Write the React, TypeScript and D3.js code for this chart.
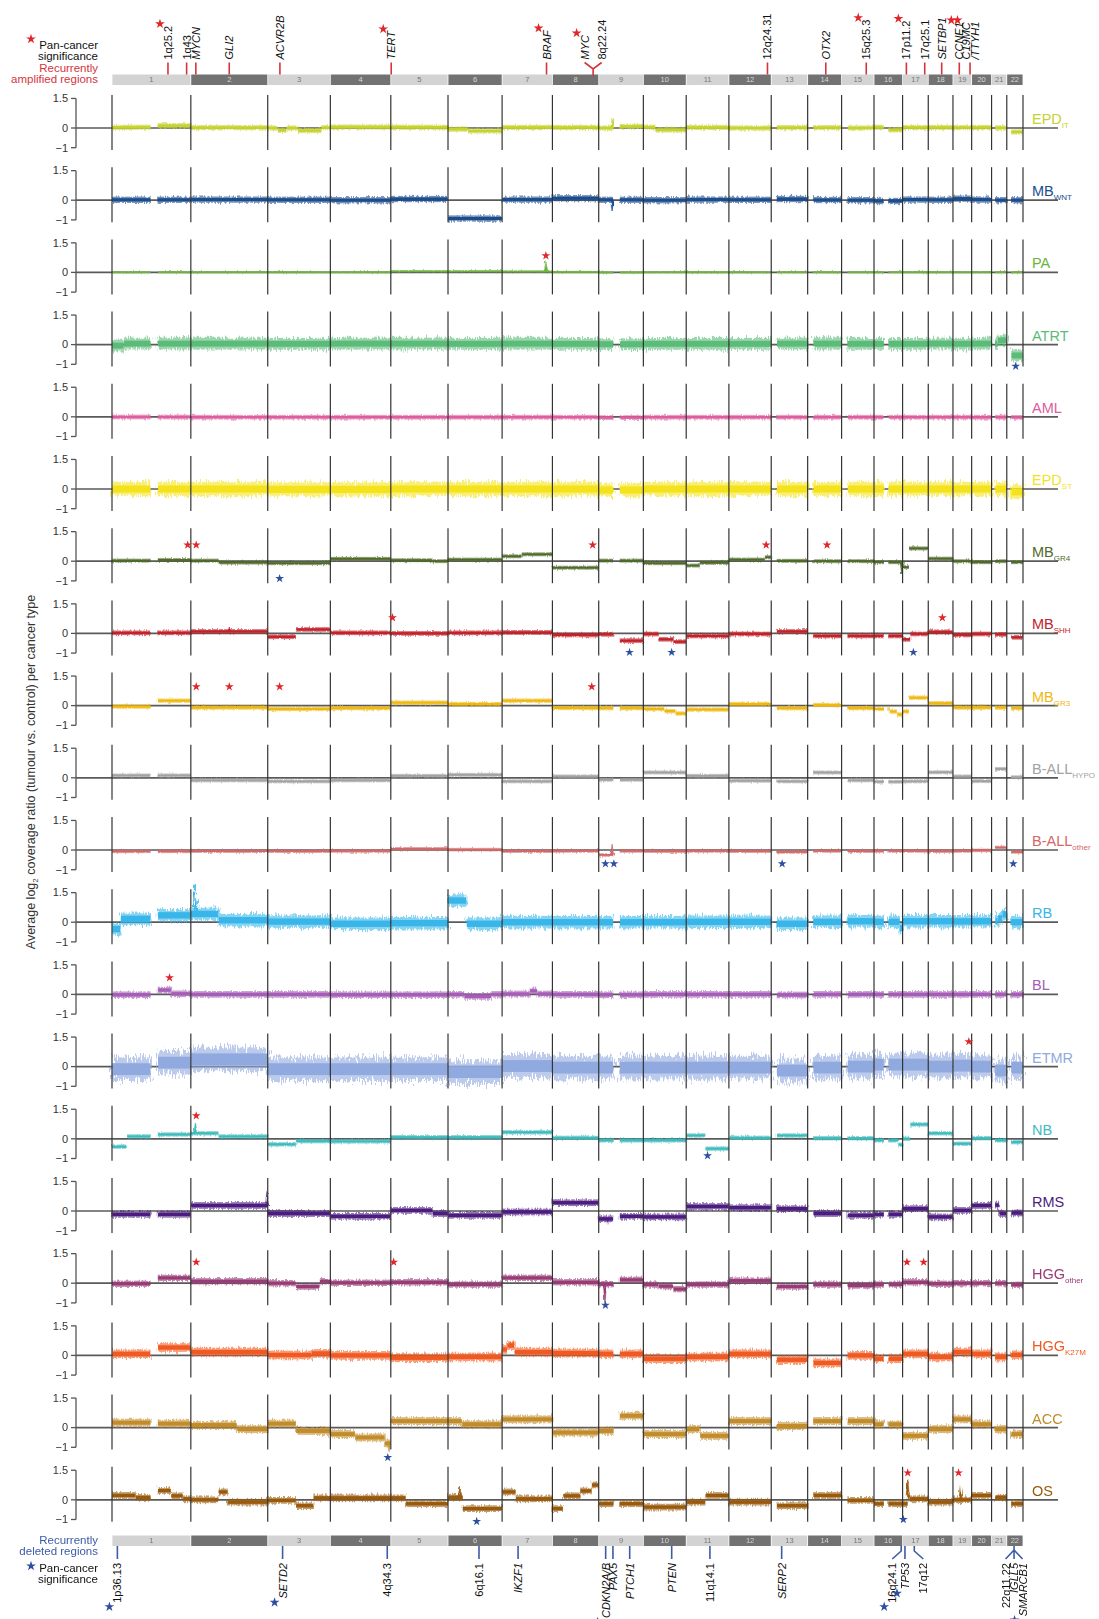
import React from 'react';
import * as d3 from 'd3';

// ---------- DATA ----------
const CHROMS = ['1','2','3','4','5','6','7','8','9','10','11','12','13','14','15','16','17','18','19','20','21','22'];
const CHROM_LENGTHS = [249.3,243.2,198.0,191.2,180.9,171.1,159.1,146.4,141.2,135.5,135.0,133.9,115.2,107.3,102.5,90.4,81.2,78.1,59.1,63.0,48.1,51.3];
// unmappable regions (chromosome, fraction start, fraction end)
const GAPS = [[1,0.49,0.58],[9,0.33,0.47],[13,0,0.15],[14,0,0.16],[15,0,0.18],[16,0.35,0.5],[21,0,0.22],[22,0,0.26]];

const CANCER_NAMES = [['EPD','IT'],['MB','WNT'],['PA',''],['ATRT',''],['AML',''],['EPD','ST'],['MB','GR4'],['MB','SHH'],['MB','GR3'],['B-ALL','HYPO'],['B-ALL','other'],['RB',''],['BL',''],['ETMR',''],['NB',''],['RMS',''],['HGG','other'],['HGG','K27M'],['ACC',''],['OS','']];
const CANCER_COLORS = ['#c6d32e','#1b4d8d','#6db23c','#5bbb78','#de5d9c','#f4e31c','#4f6b2a','#c3222a','#efb80f','#a2a2a2','#d26868','#38b6ea','#a55db6','#90a9de','#3dbbbd','#4d1c80','#983c77','#f05a22','#c28c2b','#9a5a0c'];
// spread of the per-bin values around each segment (log2 units)
const NOISE = [0.13,0.16,0.06,0.3,0.12,0.36,0.1,0.12,0.11,0.1,0.09,0.32,0.17,0.6,0.11,0.17,0.16,0.22,0.2,0.17];

// per chromosome: uniform level, or list of [start fraction, level]
const EPD_IT = [[[0,0.04],[0.58,0.12]],0.02,[[0,0],[0.16,-0.12],[0.3,0],[0.48,-0.13],[0.86,0.02]],0.05,0.04,[[0,-0.06],[0.37,-0.15]],0.03,0.03,[[0,0],[0.47,0.08]],[[0,0.04],[0.28,-0.1]],0.03,0,0.02,0.02,0,[[0,0.04],[0.5,-0.1]],0.03,0.03,0.02,0.03,0.01,-0.2];
const MB_WNT = [0.02,0.03,0.02,0,0.06,-0.93,0.03,0.1,0.02,0,0.03,0.02,0.06,0.01,0,-0.04,0.03,0.02,0.08,0.03,0,0];
const PA = [0.01,0.01,0.01,0.01,0.06,0.06,0.05,0.02,0,0.01,0.01,0.01,0.01,0.01,0.01,0.01,0.01,0.01,0.01,0.01,0.01,0.01];
const ATRT = [[[0,-0.05],[0.15,0.05]],0.05,0.04,0.05,0.05,0.04,0.05,0.04,0.02,0.04,0.04,0.04,0.05,0.05,0.04,0.04,0.04,0.05,0.04,0.05,[[0,0.04],[0.4,0.22]],-0.55];
const AML = [-0.01,-0.02,-0.02,-0.02,-0.02,-0.02,-0.02,-0.02,-0.04,-0.02,-0.02,-0.02,-0.02,-0.02,-0.02,-0.02,-0.02,-0.02,-0.02,-0.02,-0.02,-0.03];
const EPD_ST = [0,0,-0.02,-0.02,0,0,0,0,-0.05,0,0,0,0,0,0,0,0,0,0,0,0,-0.15];
const MB_GR4 = [[[0,0.03],[0.58,0.06]],[[0,0.03],[0.36,-0.07]],-0.1,0.12,[[0,0.05],[0.73,0]],0.08,[[0,0.25],[0.39,0.35]],-0.33,0.03,-0.1,[[0,-0.22],[0.32,-0.08]],[[0,0.08],[0.85,0.2]],0.02,0,0,-0.05,[[0,-0.3],[0.25,0.65]],0.13,0,-0.05,0,-0.05];
const MB_SHH = [0.03,0.1,[[0,-0.17],[0.45,0.2]],0.03,0,0.03,0.05,-0.08,[[0,-0.05],[0.47,-0.37]],[[0,-0.03],[0.35,-0.3],[0.7,-0.42]],-0.13,-0.03,0.1,-0.13,-0.13,-0.13,[[0,-0.3],[0.3,-0.03]],0.08,-0.08,-0.03,-0.05,-0.2];
const MB_GR3 = [[[0,-0.05],[0.58,0.25]],-0.1,-0.17,-0.13,0.15,0.08,0.25,-0.12,-0.13,[[0,-0.17],[0.49,-0.28],[0.75,-0.4]],-0.2,0.08,-0.13,0.03,-0.13,[[0,-0.17],[0.55,-0.3],[0.8,-0.45]],[[0,-0.3],[0.25,0.4]],0.12,-0.1,-0.1,-0.1,-0.13];
const BALL_HYPO = [0.12,-0.13,-0.18,-0.13,0.1,0.15,-0.18,0.07,-0.1,0.27,0.1,-0.15,-0.18,0.27,-0.13,-0.2,-0.18,0.28,0.07,-0.17,0.45,0.03];
const BALL_OTHER = [-0.07,-0.06,-0.06,-0.05,0.06,0.02,-0.06,-0.05,[[0,-0.25],[0.33,-0.05]],-0.06,-0.05,-0.06,-0.1,-0.05,-0.06,-0.05,-0.05,-0.06,-0.05,-0.02,0.13,-0.1];
const RB = [[[0,-0.35],[0.11,0.17],[0.58,0.35]],[[0,0.42],[0.36,0.1]],0.03,-0.08,-0.05,[[0,1.1],[0.34,-0.08]],0,0,0,0,0.02,0.02,-0.08,0.02,0.05,[[0,0.02],[0.9,-0.3]],0.05,0.05,0.04,0.05,[[0,0.05],[0.4,0.2],[0.7,0.4]],0];
const BL = [[[0,-0.02],[0.58,0.22],[0.75,0.03]],0,0,-0.02,-0.02,[[0,0],[0.3,-0.1],[0.8,0]],[[0,0.02],[0.55,0.18],[0.7,0.02]],0,-0.02,0,0,0,-0.03,0,0,0,0,0,0,0,0,0];
const ETMR = [[[0,-0.13],[0.58,0.2]],0.37,-0.13,-0.13,-0.13,-0.28,0.03,-0.05,-0.05,-0.05,-0.05,-0.05,-0.2,-0.05,0,0.1,0.1,0,0.05,0,-0.2,-0.05];
const NB = [[[0,-0.4],[0.19,0.12],[0.58,0.22]],[[0,0.28],[0.36,0.12]],[[0,-0.28],[0.45,-0.12]],-0.13,0.08,0.08,0.33,0.05,-0.08,-0.08,[[0,0.17],[0.45,-0.5]],0.05,0.17,0.03,0.03,[[0,-0.08],[0.85,-0.3]],[[0,0],[0.3,0.73]],0.28,-0.25,0.03,-0.08,-0.17];
const RMS = [-0.17,0.28,-0.13,-0.27,[[0,0.03],[0.73,-0.13]],-0.22,-0.05,0.42,[[0,-0.4],[0.47,-0.27]],-0.3,0.23,0.17,0.12,-0.13,-0.22,-0.17,0.12,-0.3,0.03,0.28,[[0,0.3],[0.5,-0.13]],-0.1];
const HGG_OTHER = [[[0,-0.03],[0.58,0.27]],0.1,[[0,0],[0.45,-0.17],[0.83,0.1]],0.02,0.05,-0.07,0.27,0.05,[[0,-0.05],[0.47,0.17]],[[0,-0.07],[0.35,-0.15],[0.7,-0.3]],-0.07,0.13,-0.17,-0.07,-0.12,-0.07,0.05,-0.03,0,0,0,-0.08];
const HGG_K27M = [[[0,0.08],[0.58,0.4]],0.17,[[0,0.02],[0.7,0.1]],0,-0.12,-0.08,[[0,0.3],[0.1,0.5],[0.25,0.17]],0.12,0.08,-0.17,-0.08,0.08,-0.22,-0.38,0,-0.17,0.08,-0.08,0.17,0.08,-0.08,0.03];
const ACC = [[[0,0.25],[0.58,0.2]],[[0,0.13],[0.6,-0.08]],[[0,0.2],[0.45,-0.17]],[[0,-0.33],[0.41,-0.5],[0.9,-0.8]],0.33,[[0,0.33],[0.26,0.17]],0.42,-0.25,[[0,-0.17],[0.47,0.6]],-0.33,[[0,-0.08],[0.32,-0.42]],0.33,0.08,0.33,0.33,0.17,-0.42,-0.08,0.42,0.17,-0.08,-0.33];
const OS = [[[0,0.22],[0.3,0.12],[0.58,0.47],[0.75,0.2],[0.9,0.05]],[[0,0],[0.36,0.4],[0.48,-0.12]],[[0,-0.03],[0.45,-0.3],[0.73,0.1]],0.1,[[0,0.1],[0.26,-0.2]],[[0,0.13],[0.27,-0.45]],[[0,0.4],[0.27,0.05]],[[0,-0.45],[0.23,0.2],[0.6,0.45],[0.85,0.75]],-0.2,-0.37,[[0,-0.12],[0.45,0.22]],-0.12,-0.3,0.22,-0.03,-0.2,[[0,-0.2],[0.2,0.15],[0.28,0.05]],-0.12,0,0.22,0.13,-0.2];

const PROFILES = [EPD_IT,MB_WNT,PA,ATRT,AML,EPD_ST,MB_GR4,MB_SHH,MB_GR3,BALL_HYPO,BALL_OTHER,RB,BL,ETMR,NB,RMS,HGG_OTHER,HGG_K27M,ACC,OS];

// focal peaks: [cancer index, chromosome, fraction, peak value]
const SPIKES = [[0,9,0.3,0.45],[1,9,0.3,-0.6],[2,7,0.87,0.6],[5,9,0.3,-0.5],[6,16,0.97,-0.65],[7,2,0.5,0.3],[10,9,0.3,0.3],[11,2,0.06,1.9],[14,2,0.06,0.85],[15,2,0.99,0.95],[15,9,0.2,-0.7],[16,9,0.14,-1.05],[17,7,0.2,0.8],[18,4,0.97,-1.2],[19,6,0.22,0.7],[19,17,0.2,1.2],[19,19,0.4,0.75]];

// significance stars in panels: [cancer index, chromosome, fraction, value, kind]
const PANEL_STARS = [
  [2,7,0.87,0.85,'amp'],[3,22,0.55,-1.1,'del'],
  [6,1,0.96,0.82,'amp'],[6,2,0.07,0.82,'amp'],[6,8,0.87,0.82,'amp'],[6,12,0.88,0.82,'amp'],[6,14,0.57,0.82,'amp'],[6,3,0.19,-0.88,'del'],
  [7,5,0.03,0.8,'amp'],[7,18,0.57,0.8,'amp'],[7,9,0.69,-0.96,'del'],[7,10,0.66,-0.96,'del'],[7,17,0.42,-0.96,'del'],
  [8,2,0.07,0.96,'amp'],[8,2,0.5,0.96,'amp'],[8,3,0.19,0.96,'amp'],[8,8,0.85,0.96,'amp'],
  [10,9,0.15,-0.7,'del'],[10,9,0.34,-0.7,'del'],[10,13,0.3,-0.7,'del'],[10,22,0.4,-0.7,'del'],
  [12,1,0.73,0.85,'amp'],[13,19,0.85,1.27,'amp'],
  [14,2,0.07,1.17,'amp'],[14,11,0.5,-0.86,'del'],
  [16,2,0.07,1.07,'amp'],[16,5,0.05,1.07,'amp'],[16,17,0.17,1.07,'amp'],[16,17,0.82,1.07,'amp'],[16,9,0.15,-1.12,'del'],
  [18,4,0.95,-1.52,'del'],
  [19,17,0.2,1.37,'amp'],[19,19,0.3,1.37,'amp'],[19,6,0.53,-1.1,'del'],[19,17,0.03,-1.0,'del'],
];

// recurrently amplified regions: [chromosome, Mb, label lines, italic, pan-cancer star]
const AMP_LABELS = [
  [1,177,['1q25.2'],false,true],[1,236,['1q43'],false,false],[2,15.9,['MYCN'],true,false],[2,121.5,['GLI2'],true,false],
  [3,38.5,['ACVR2B'],true,false],[5,1.3,['TERT'],true,true],[7,140.5,['BRAF'],true,true],[12,122,['12q24.31'],false,false],
  [14,57.3,['OTX2'],true,false],[15,78,['15q25.3'],false,true],[17,12,['17p11.2'],false,true],[17,70,['17q25.1'],false,false],
  [18,42.5,['SETBP1'],true,false],[19,20,['CCNE1'],true,true],[19,54,['C19MC','/TTYH1'],true,true],
];
const AMP_FORKS = [[8,128.7,[['MYC',true,true],['8q22.24',false,false]]]];

// recurrently deleted regions: [chromosome, Mb, label, italic, star, branch]
const DEL_LABELS = [
  [1,17,'1p36.13',false,true,0],[3,47,'SETD2',true,true,0],[4,180,'4q34.3',false,false,0],[6,98,'6q16.1',false,false,0],
  [7,50.5,'IKZF1',true,false,0],[9,22,'CDKN2A/B',true,true,0],[9,45,'PAX5',true,false,0],[9,98,'PTCH1',true,false,0],
  [10,89.6,'PTEN',true,false,0],[11,75,'11q14.1',false,false,0],[13,33,'SERP2',true,false,0],
  [16,86,'16q24.1',false,true,-1],[17,7.5,'TP53',true,true,0],[17,37,'17q12',false,false,1],
];
const DEL_FORKS = [[22,23,[['22q11.22',false,false],['IGLL5',true,false],['SMARCB1',true,true]]]];

const Y_TICKS = [1.5, 0, -1];

// ---------- LAYOUT ----------
const W = 1099, H = 1619;
const X0 = 112, X1 = 1023;
const PANEL_Y0 = 128, PANEL_STEP = 72.2, UNIT = 19.7;
const AXIS_X = 76;
const TOP_BAR = [74.5, 85], BOT_BAR = [1535.5, 1546];
const FONT = "'Liberation Sans', Arial, Helvetica, sans-serif";
const RED = '#e0262b', BLUE = '#2c509f', RED_TXT = '#d5343c', BLUE_TXT = '#3b5ca7';

const offsets = [0, ...d3.cumsum(CHROM_LENGTHS).slice(0, -1)];
const total = d3.sum(CHROM_LENGTHS);
const x = d3.scaleLinear().domain([0, total]).range([X0, X1]);
const gx = (c: number, mb: number) => x(offsets[c - 1] + mb);
const gf = (c: number, f: number) => x(offsets[c - 1] + f * CHROM_LENGTHS[c - 1]);

let ctx: CanvasRenderingContext2D | null = null;
function textLen(t: string, italic: boolean, size = 11) {
  if (!ctx) ctx = document.createElement('canvas').getContext('2d');
  if (!ctx) return t.length * size * 0.56;
  ctx.font = `${italic ? 'italic ' : ''}${size}px 'Liberation Sans', Arial`;
  return ctx.measureText(t).width;
}

function pieces(e: any): [number, number][] { return typeof e === 'number' ? [[0, e]] : e; }
function segmentsFor(profile: any[]) {
  const out: { c: number; a: number; b: number; lv: number }[] = [];
  profile.forEach((entry, ci) => {
    const p = pieces(entry);
    p.forEach(([f0, lv], k) => {
      const f1 = k + 1 < p.length ? p[k + 1][0] : 1;
      let parts: [number, number][] = [[f0, f1]];
      GAPS.filter(g => g[0] === ci + 1).forEach(([, g0, g1]) => {
        parts = parts.flatMap(([a, b]) => {
          const r: [number, number][] = [];
          if (a < g0) r.push([a, Math.min(b, g0)]);
          if (b > g1) r.push([Math.max(a, g1), b]);
          return r;
        });
      });
      parts.forEach(([a, b]) => { if (b > a) out.push({ c: ci + 1, a, b, lv }); });
    });
  });
  return out;
}
function levelAt(profile: any[], c: number, f: number) {
  const p = pieces(profile[c - 1]);
  let lv = p[0][1];
  p.forEach(([s, l]) => { if (f >= s) lv = l; });
  return lv;
}

const starPath = (size: number) => d3.symbol(d3.symbolStar, size)() as string;

function Star({ cx, cy, color, size = 26 }: any) {
  return <path d={starPath(size)} transform={`translate(${cx},${cy})`} fill={color} />;
}

function ChromBar({ y }: { y: [number, number] }) {
  return (
    <g>
      {CHROMS.map((c, i) => {
        const xa = x(offsets[i]) + 0.4, xb = x(offsets[i] + CHROM_LENGTHS[i]) - 0.4;
        const dark = i % 2 === 1;
        return (
          <g key={c}>
            <rect x={xa} y={y[0]} width={xb - xa} height={y[1] - y[0]} fill={dark ? '#727272' : '#d3d3d3'} />
            <text x={(xa + xb) / 2} y={(y[0] + y[1]) / 2 + 2.6} fontSize={7.5} textAnchor="middle" fill={dark ? '#d8d8d8' : '#777'}>{c}</text>
          </g>
        );
      })}
    </g>
  );
}

function Panel({ i }: { i: number }) {
  const y0 = PANEL_Y0 + i * PANEL_STEP;
  const y = d3.scaleLinear().domain([-1, 1.5]).range([y0 + UNIT, y0 - 1.5 * UNIT]);
  const color = CANCER_COLORS[i];
  const amp = NOISE[i];
  const segs = segmentsFor(PROFILES[i]);
  const [name, sub] = CANCER_NAMES[i];
  const rough = Math.max(3, amp * UNIT * 1.5);
  return (
    <g>
      <defs>
        <filter id={`rough${i}`} filterUnits="userSpaceOnUse" x={X0 - 6} y={y0 - 45} width={X1 - X0 + 12} height={90}>
          <feTurbulence type="fractalNoise" baseFrequency="0.8 0.12" numOctaves={2} seed={i * 7 + 3} result="n" />
          <feDisplacementMap in="SourceGraphic" in2="n" scale={rough} xChannelSelector="R" yChannelSelector="G" />
        </filter>
      </defs>
      {/* axis */}
      <line x1={AXIS_X} x2={AXIS_X} y1={y(1.5)} y2={y(-1)} stroke="#555" strokeWidth={1.3} />
      {Y_TICKS.map(t => (
        <g key={t}>
          <line x1={AXIS_X - 5} x2={AXIS_X} y1={y(t)} y2={y(t)} stroke="#555" strokeWidth={1.3} />
          <text x={AXIS_X - 8} y={y(t) + 3.8} fontSize={11} textAnchor="end" fill="#333">{t < 0 ? '\u2212' + Math.abs(t) : t}</text>
        </g>
      ))}
      <line x1={AXIS_X} x2={1058} y1={y(0)} y2={y(0)} stroke="#5a5a5a" strokeWidth={1.7} />
      {/* data bands: outer spread (roughened) */}
      <g filter={`url(#rough${i})`}>
        {segs.map((s, k) => {
          const xa = gf(s.c, s.a), xb = gf(s.c, s.b);
          const yo1 = y(s.lv + amp), yo2 = y(s.lv - amp);
          return <rect key={k} x={xa} width={Math.max(0.5, xb - xa)} y={yo1} height={Math.max(1.2, yo2 - yo1)} fill={color} opacity={0.6} />;
        })}
        {SPIKES.filter(s => s[0] === i).map((s, k) => {
          const [, c, f, v] = s as number[];
          const xs = gf(c, f);
          const base = levelAt(PROFILES[i], c, f);
          return <path key={k} d={`M${xs - 1.6},${y(base)} L${xs},${y(v)} L${xs + 1.6},${y(base)} Z`} fill={color} stroke={color} strokeWidth={0.6} />;
        })}
      </g>
      {/* dense core */}
      {segs.map((s, k) => {
        const xa = gf(s.c, s.a), xb = gf(s.c, s.b);
        const yi1 = y(s.lv + amp * 0.5), yi2 = y(s.lv - amp * 0.5);
        return <rect key={k} x={xa + 0.3} width={Math.max(0.5, xb - xa - 0.6)} y={yi1} height={Math.max(1.4, yi2 - yi1)} fill={color} />;
      })}
      {/* chromosome separators */}
      {[...offsets, total].map((o, k) => (
        <line key={k} x1={x(o)} x2={x(o)} y1={y0 - 33} y2={y0 + 22} stroke="#333" strokeWidth={1.2} />
      ))}
      {PANEL_STARS.filter(s => s[0] === i).map((s, k) => {
        const [, c, f, v, kind] = s as any[];
        return <Star key={k} cx={gf(c, f)} cy={y(v)} color={kind === 'amp' ? RED : BLUE} size={24} />;
      })}
      <text x={1032} y={y0 - 4} fontSize={14.5} fill={color}>
        {name}
        {sub && <tspan fontSize={8} dy={4}>{sub}</tspan>}
      </text>
    </g>
  );
}

function RotLabel({ cx, y, text, italic, anchor }: any) {
  return (
    <text transform={`translate(${cx + 4},${y}) rotate(-90)`} fontSize={11} fontStyle={italic ? 'italic' : 'normal'} textAnchor={anchor} fill="#111">{text}</text>
  );
}

function TopLabels() {
  const tickTop = 62.5, textY = 59.5;
  const items: any[] = [];
  AMP_LABELS.forEach(([c, mb, lines, italic, star], k) => {
    const xt = gx(c as number, mb as number);
    const ls = lines as string[];
    const cols = ls.map((_, j) => xt + (j - (ls.length - 1) / 2) * 9);
    items.push(<line key={'t' + k} x1={xt} x2={xt} y1={TOP_BAR[0]} y2={tickTop} stroke={RED_TXT} strokeWidth={1.6} />);
    ls.forEach((t, j) => items.push(<RotLabel key={'l' + k + j} cx={cols[j]} y={textY} text={t} italic={italic} anchor="start" />));
    if (star) {
      const len = textLen(ls[0], italic as boolean);
      items.push(<Star key={'s' + k} cx={cols[0] - 8} cy={textY - len - 2} color={RED} size={30} />);
    }
  });
  AMP_FORKS.forEach(([c, mb, labs], k) => {
    const xt = gx(c as number, mb as number);
    const ls = labs as any[];
    const spread = 8.5;
    items.push(<path key={'f' + k} d={`M${xt},${TOP_BAR[0] + 2} L${xt},${69} M${xt - spread},${tickTop} L${xt},${69} L${xt + spread},${tickTop}`} stroke={RED_TXT} strokeWidth={1.6} fill="none" />);
    ls.forEach(([t, it, st], j) => {
      const cx = xt + (j === 0 ? -spread : spread);
      items.push(<RotLabel key={'fl' + k + j} cx={cx} y={textY} text={t} italic={it} anchor="start" />);
      if (st) items.push(<Star key={'fs' + k + j} cx={cx - 8} cy={textY - textLen(t, it) - 2} color={RED} size={30} />);
    });
  });
  return <g>{items}</g>;
}

function BottomLabels() {
  const b = BOT_BAR[1];
  const tickEnd = b + 13, textY = b + 17;
  const items: any[] = [];
  DEL_LABELS.forEach(([c, mb, t, italic, star, branch], k) => {
    const xt = gx(c as number, mb as number);
    const br = branch as number;
    const cx = xt + br * 9;
    if (br === 0) items.push(<line key={'t' + k} x1={xt} x2={xt} y1={b} y2={tickEnd} stroke={BLUE_TXT} strokeWidth={1.6} />);
    else items.push(<path key={'t' + k} d={`M${xt},${b} L${xt},${b + 5} L${cx},${tickEnd}`} stroke={BLUE_TXT} strokeWidth={1.6} fill="none" />);
    items.push(<RotLabel key={'l' + k} cx={cx} y={textY} text={t} italic={italic} anchor="end" />);
    if (star) items.push(<Star key={'s' + k} cx={cx - 8} cy={textY + textLen(t as string, italic as boolean) + 4} color={BLUE} size={30} />);
  });
  DEL_FORKS.forEach(([c, mb, labs], k) => {
    const xt = gx(c as number, mb as number);
    const ls = labs as any[];
    const spread = 8.5;
    const paths = ls.map((_, j) => `M${xt},${b + 4} L${xt + (j - 1) * spread},${tickEnd}`).join(' ');
    items.push(<path key={'f' + k} d={`M${xt},${b} L${xt},${b + 4} ${paths}`} stroke={BLUE_TXT} strokeWidth={1.6} fill="none" />);
    ls.forEach(([t, it, st], j) => {
      const cx = xt + (j - 1) * spread;
      items.push(<RotLabel key={'fl' + k + j} cx={cx} y={textY} text={t} italic={it} anchor="end" />);
      if (st) items.push(<Star key={'fs' + k + j} cx={cx - 8} cy={textY + textLen(t, it) + 4} color={BLUE} size={30} />);
    });
  });
  return <g>{items}</g>;
}

export default function App() {
  return (
    <svg width={W} height={H} viewBox={`0 0 ${W} ${H}`} style={{ position: 'absolute', left: 0, top: 0, background: '#fff' }} fontFamily={FONT}>
      <rect width={W} height={H} fill="#fff" />
      {/* top legend */}
      <g fontSize={11.5} textAnchor="end">
        <Star cx={31} cy={39} color={RED} size={30} />
        <text x={98} y={49} fill="#111">Pan-cancer</text>
        <text x={98} y={60} fill="#111">significance</text>
        <text x={98} y={72} fill={RED_TXT}>Recurrently</text>
        <text x={98} y={83} fill={RED_TXT}>amplified regions</text>
      </g>
      <ChromBar y={TOP_BAR as [number, number]} />
      <TopLabels />
      {PROFILES.map((_, i) => <Panel key={i} i={i} />)}
      <ChromBar y={BOT_BAR as [number, number]} />
      <BottomLabels />
      <g fontSize={11.5} textAnchor="end">
        <text x={98} y={1544} fill={BLUE_TXT}>Recurrently</text>
        <text x={98} y={1555} fill={BLUE_TXT}>deleted regions</text>
        <Star cx={31} cy={1566} color={BLUE} size={30} />
        <text x={98} y={1572} fill="#111">Pan-cancer</text>
        <text x={98} y={1583} fill="#111">significance</text>
      </g>
      <text transform={`translate(35,772) rotate(-90)`} fontSize={12.5} textAnchor="middle" fill="#333">
        Average log<tspan fontSize={8} dy={3}>2</tspan><tspan dy={-3}> coverage ratio (tumour vs. control) per cancer type</tspan>
      </text>
    </svg>
  );
}
